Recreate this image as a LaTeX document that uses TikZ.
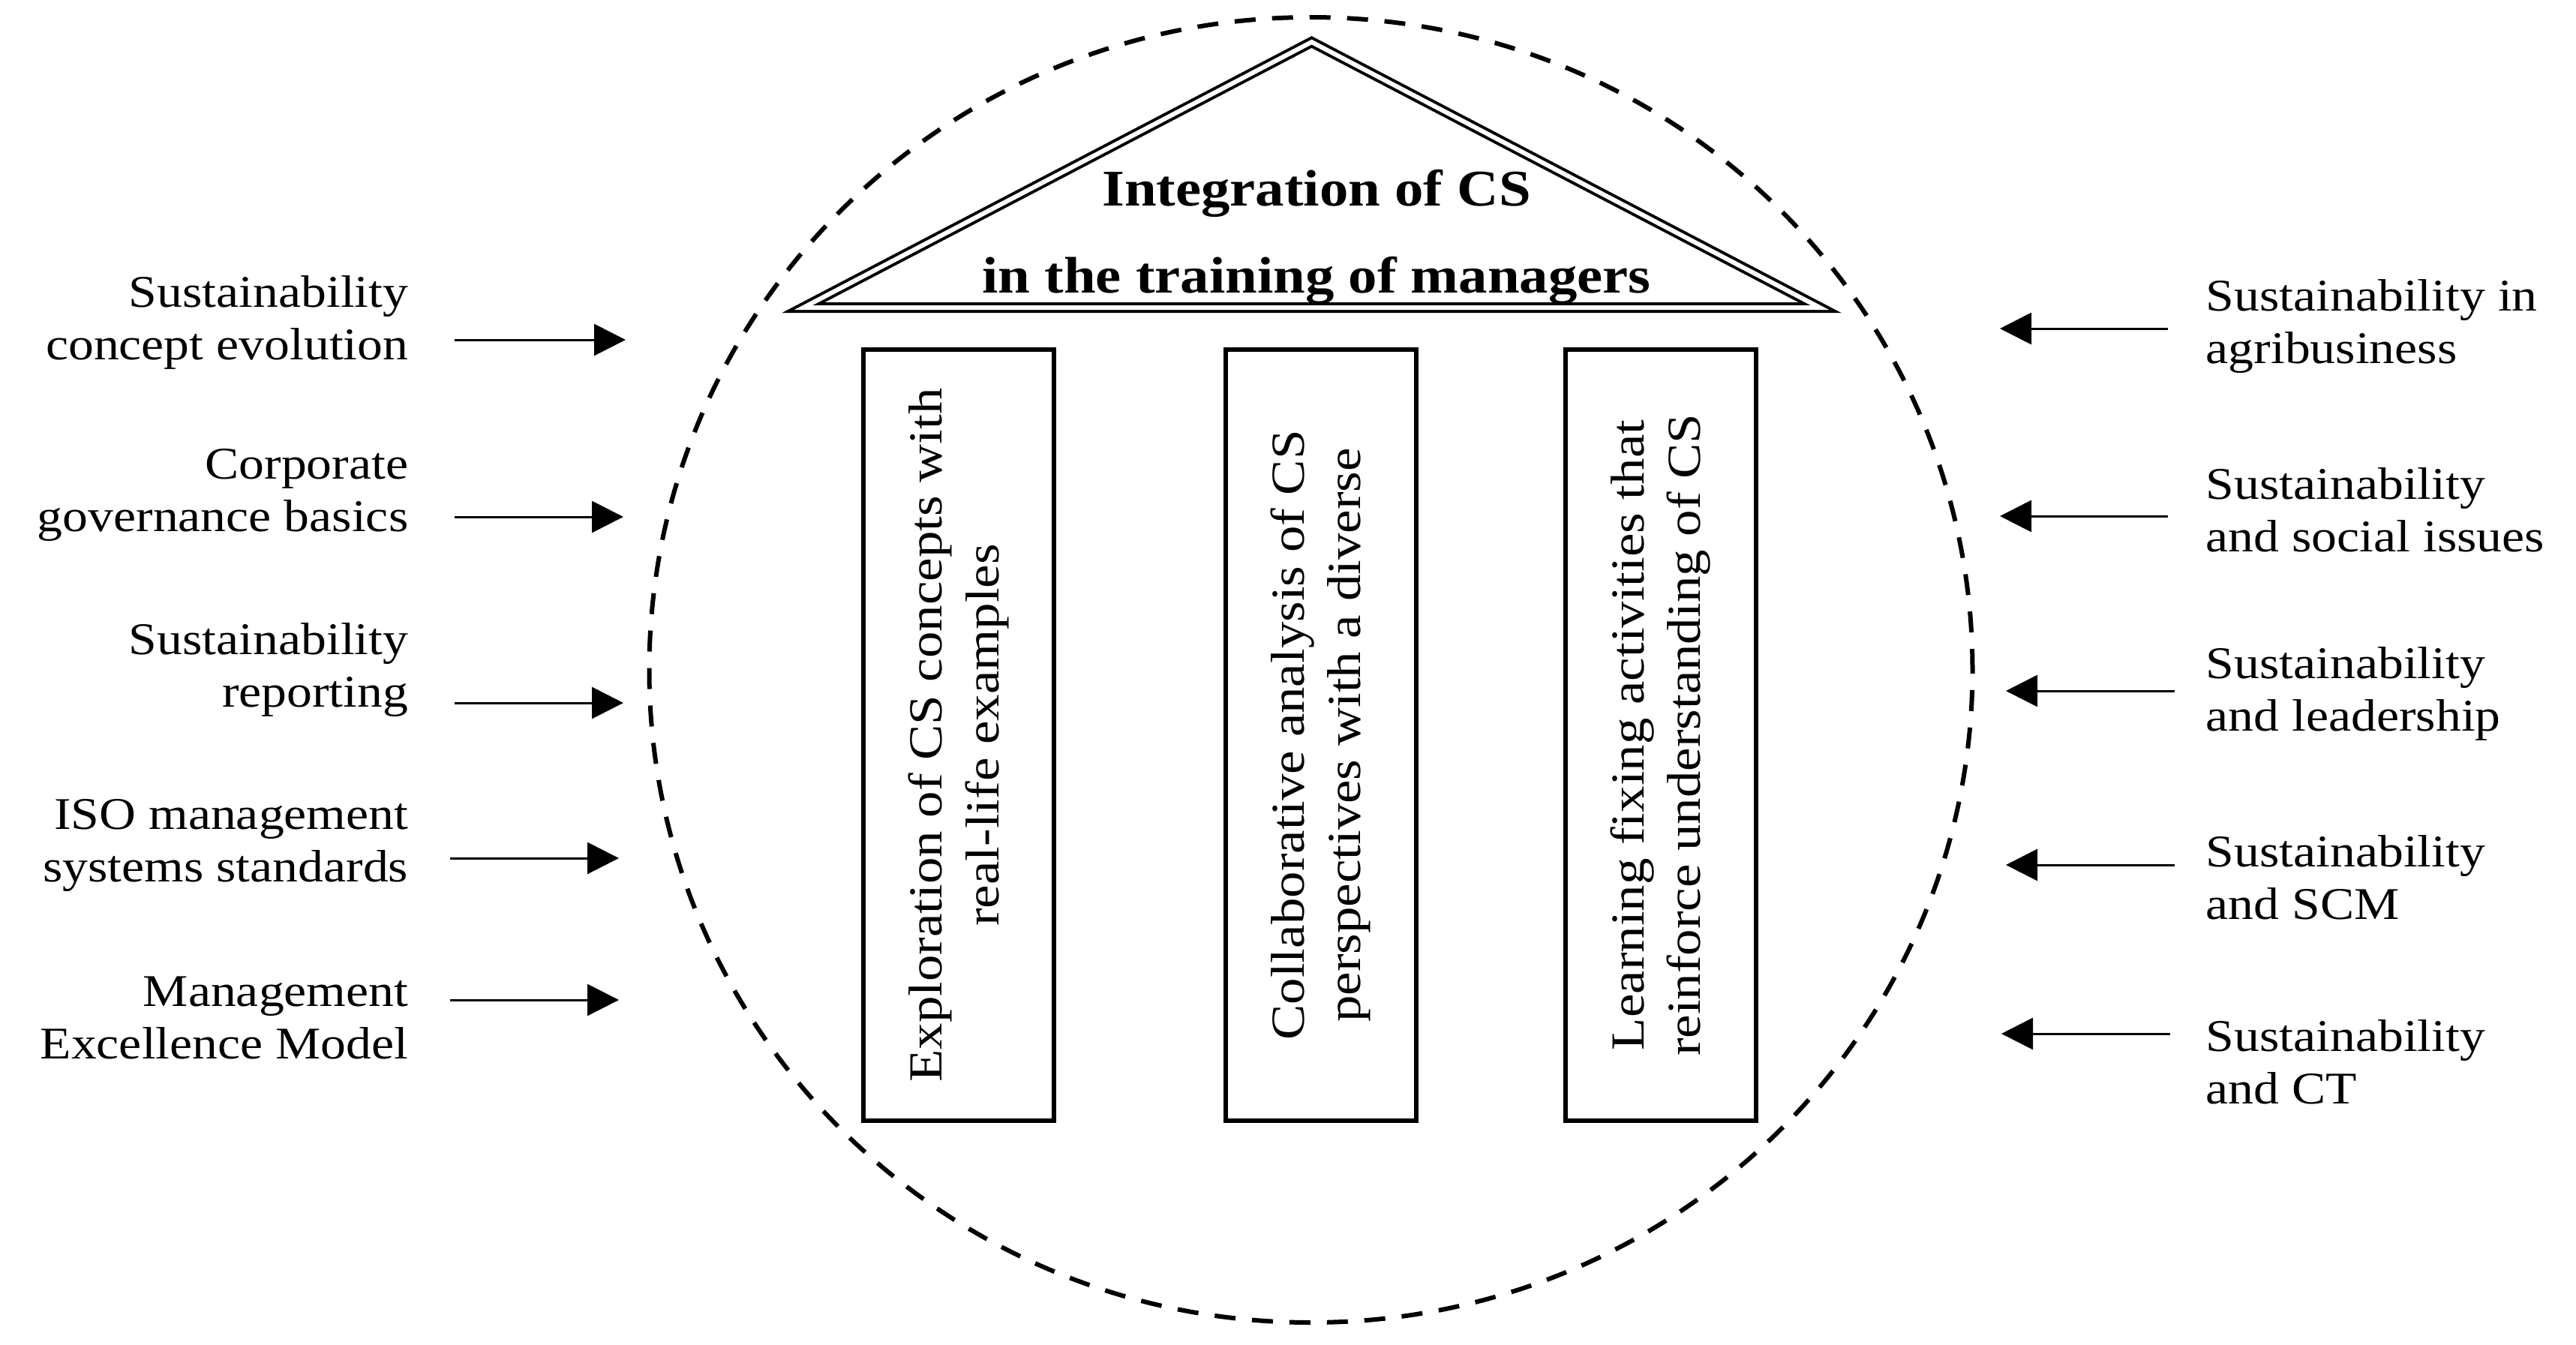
\documentclass[tikz,border=0pt]{standalone}
\usepackage{fontspec}
\setmainfont{Liberation Serif}[FakeStretch=1.12]
\usetikzlibrary{arrows.meta}
\tikzset{
  sidetxt/.style={inner sep=0pt, font=\fontsize{17.2}{20}\selectfont},
  lefttxt/.style={sidetxt, anchor=east, align=right},
  righttxt/.style={sidetxt, anchor=west, align=left},
  arr/.style={line width=0.03cm, -{Triangle[length=0.42cm,width=0.42cm]}},
  pillar/.style={draw, line width=0.06cm, rotate=90, minimum width=10.28cm, minimum height=2.54cm,
     inner sep=0pt, align=center, font=\fontsize{18}{21.5}\selectfont},
  roof/.style={draw, line width=0.04cm, double=white, double distance=0.06cm, line join=miter},
  halo/.style={draw, dashed, line width=0.06cm, dash pattern=on 0.28cm off 0.22cm},
  title/.style={inner sep=0pt, align=center, font=\bfseries\fontsize{19.5}{33}\selectfont}
}
\begin{document}
\begin{tikzpicture}
\useasboundingbox (0,0) rectangle (34.34,-17.92);
% dashed circle
\draw[halo] (17.475,-8.93) ellipse [x radius=8.82cm, y radius=8.70cm];
% roof
\draw[roof] (10.71,-4.10) -- (17.485,-0.56) -- (24.26,-4.10) -- cycle;
\node[title] (title) at (17.55,-3.16) {Integration of CS\\in the training of managers};
% pillars
\node[pillar] (p1) at (12.78,-9.80) {Exploration of CS concepts with\\real-life examples};
\node[pillar] (p2) at (17.605,-9.80) {Collaborative analysis of CS\\perspectives with a diverse};
\node[pillar] (p3) at (22.135,-9.80) {Learning fixing activities that\\reinforce understanding of CS};
% left texts
\node[lefttxt] (l1) at (5.45,-4.30) {Sustainability\\concept evolution};
\node[lefttxt] (l2) at (5.45,-6.60) {Corporate\\governance basics};
\node[lefttxt] (l3) at (5.45,-8.93) {Sustainability\\reporting};
\node[lefttxt] (l4) at (5.45,-11.27) {ISO management\\systems standards};
\node[lefttxt] (l5) at (5.45,-13.57) {Management\\Excellence Model};
% right texts
\node[righttxt] (r1) at (29.40,-4.35) {Sustainability in\\agribusiness};
\node[righttxt] (r2) at (29.40,-6.80) {Sustainability\\and social issues};
\node[righttxt] (r3) at (29.40,-9.25) {Sustainability\\and leadership};
\node[righttxt] (r4) at (29.40,-11.70) {Sustainability\\and SCM};
\node[righttxt] (r5) at (29.40,-14.16) {Sustainability\\and CT};
% arrow end points
\coordinate (la1) at (6.06,-4.53);  \coordinate (lb1) at (8.34,-4.53);
\coordinate (la2) at (6.06,-6.89);  \coordinate (lb2) at (8.31,-6.89);
\coordinate (la3) at (6.06,-9.37);  \coordinate (lb3) at (8.31,-9.37);
\coordinate (la4) at (6.00,-11.44); \coordinate (lb4) at (8.25,-11.44);
\coordinate (la5) at (6.00,-13.33); \coordinate (lb5) at (8.25,-13.33);
\coordinate (ra1) at (28.90,-4.38);  \coordinate (rb1) at (26.66,-4.38);
\coordinate (ra2) at (28.90,-6.88);  \coordinate (rb2) at (26.66,-6.88);
\coordinate (ra3) at (28.99,-9.21);  \coordinate (rb3) at (26.74,-9.21);
\coordinate (ra4) at (28.99,-11.53); \coordinate (rb4) at (26.74,-11.53);
\coordinate (ra5) at (28.93,-13.78); \coordinate (rb5) at (26.68,-13.78);
\foreach \i in {1,...,5}{
  \draw[arr] (la\i) -- (lb\i);
  \draw[arr] (ra\i) -- (rb\i);
}
\end{tikzpicture}
\end{document}
